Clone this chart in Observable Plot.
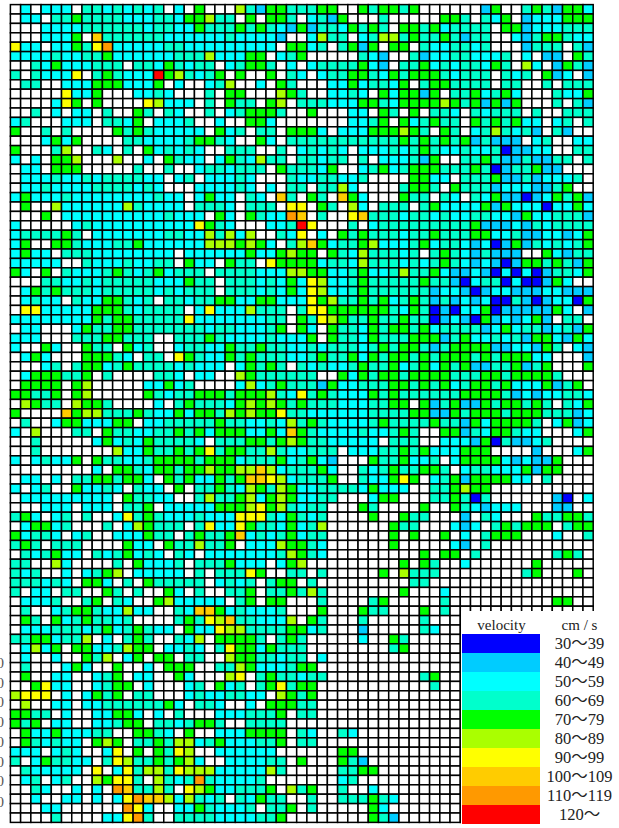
<!DOCTYPE html>
<html>
<head>
<meta charset="utf-8">
<script src="https://cdn.jsdelivr.net/npm/d3@7"></script>
<script src="https://cdn.jsdelivr.net/npm/@observablehq/plot@0.6"></script>
<style>
html,body{margin:0;padding:0;background:#fff;width:619px;height:828px;overflow:hidden}
#wrap{position:relative;width:619px;height:828px}
#grid,#legend{position:absolute}
#grid{left:0;top:0}
#legend{left:461px;top:611px}
svg{display:block}
</style>
</head>
<body>
<div id="wrap"><div id="grid"></div><div id="legend"></div></div>
<script>
// velocity class of each cell, one string per row: "." is no data
const codes = ["3","4","5","6","7","8","9","a","b","c"];
const colors = ["#0000ff","#00ccff","#00ffff","#00ffcc","#00ff00","#aaff00","#ffff00","#ffcc00","#ff9900","#ff0000"];
const legendLabels = ["30〜39","40〜49","50〜59","60〜69","70〜79","80〜89","90〜99","100〜109","110〜119","120〜"];
const legendHead = ["velocity","cm / s"];
const sideTickRows = [70,72.1,74.2,76.3,78.4,80.5,82.6,84.8];
const rowsLeft = [
".5.555.66565656.5.7",".55.667666655566577","...5555666666566557","...5557.a6666665555","955.55769b555556655","5555655667555555666",
"..657555666.6657656","6.65559.676555c7865",".66..5557775557.5..",".....9557...5565...","....597.7....98555.","..6.5.55.6..76.65..",
"56...555.6657.5556.","7..6.6....767655555","...5757....66555567","7...68..65.6.756565","5.5.778...8..5.7655",".55.777.....6..6..5",
".55565565666655.56.",".55655556666565...5","57555655555555655.5",".7..8555555865555.6","...7.55555555556555","5.....5655555555559",
"5666676.55555556655","57..776555667555555","5755.66655555555.55","55555..655565566.75","75.7.65556765675666","...6655656666655576",
".576766656666656566",".5655.65577656.6656",".9955555777656666.5","5555555576776666695",".55...5766776666666","555...66677666..666",
"5..75..766.756..566",".575...77765.66.976","...56.6775676666565",".5777667.6....665.5",".7777.78.....55756.","77667.78.....765667",
".8766.8776....5.676","7....a7886667655757",".6..57755577.556666","5.8...66.7665566767","..6.....57565766665","..6.......855766767",
"5.56557.76655677776","........5.776577677",".55.5.66776775.7675","5.56..75565.655.7.6",".555555555.76655..6","...555.555.667.5555",
"675.56.6..596765556",".57756...6.587666.6","75665.56..555766.67","676.666....755.7668",".656755.6567565.65.","66..85....6.75556.6",
"656..5.5678.55555.6","666565.775.6.766666","6.55.66..76.6..75.6",".5556..67.65..78555",".6..5677655855..65a",
".76.75676656....676",".555666567567655.75","66775668.5.676..658",".5857.77556877.5565",".5..5..768.57.77.66",".6...575..7..5.777.",
".7..55..567.55..75.","..7955..5677.5...56","8999.5.5767.66...56",".8..55.5566666675.6","7766.5..55775.5.6..","767.55..55677.66567",
".755755566..7765.7.",".765655.787.6676885","555.565..59.7.7698.","6.576655.6986676785",".655555.9.596886988",".56.56..87996.8656b",
"..65..5.5.ba6686.98","..5..55.5.59baa8586","...55......b95..557","....6....559b6..666"];
const rowsMiddle = [
"...8647766677..7677","866.7.776.5647...6.","666767654746657676.","55655554..5866.5688","5555555.7756.6747.7","855577.567.....654.",
"6.56776.5.56666754.","67.7..7.65.56677657","568..5.76...5575665","6.77...876..5565.75","6.766.78.6665557765","6.567776..7...55.76",
".5..775.......5567.",".756.66.7775.555777","765..75.66666666666","..666..6.56565.5556",".5765866.66566.6.55","665666.766657..5675",
"55565...65566556...","55565.5.66.6685....","755.65.a6.76.a75...","665.666.99.76.85.66",".75.7655ba.6..9a666","765...556c9...6.566",
"86858..659.5.767666","8887875.68a75667855","55557557877.7658666","5.766.9777756658666",".666655588775567556","6.66656575985567666",
"6.66656575985567666","6775577555978667675","95558666.6997777776","55555566.7698766766","56655567.75.7665767","76555565557.7665766",
"5576676655656665676","5576766655676675767","55.57676.6565567667","5..87666666..757677","...5856766647556667","7767778659676555767",
"6657878767666555667","7687877966555555666","6766556586765555676","57775575a7655556556",".6667767876655555.6","9677668655666.55566",
"7775666756754...766","87788a8566675..6567","5767aa9856667..6557","6765876875566665755","8667857875566...577","577789786566...76..",
"555999657656....7..","955976657568......7","667a56567566......7","667.55587765......7","555555568765.......","667555.578.........",
".66697..66.6.....7.",".5656.677.6........","..667.667686.......","55.67.77...6....67.","a7565556...7...766."];
const rowsBottom = [
"98a665558.76...6.....6...","598866667756...4.....65..",".77776.676.....5..76.....",".697757666........67.....","..87766566.5.............",".66875556 77..............".replace(" ",""),
"..89.6766566.........67..",".756.67967 7...........6..".replace(" ",""),"556655.8767..............","65..5.77766..............",".5556667.66..............","76..6666.................",
".5557777.65..65..........","67555667.66..............",".555555......77..........","..555566.7...764.........","85555586.....6677........","655556.......56..........",
"7556667.867..6..5........","56.65766..6..666765......","65556.667.6.....75.......","65555667........764......"];
const rowsRight = [
"67......47..6764775","....776.657.4555777","776756666.774555666","676676466..54677655","7.6556656...4666.64",".6455665556.5.44.76",
"66756566576.85.4764","677765666.656.745.4","7.6776666.66..6.666","7747.6675675...6557","777787674747...6.64",".7.665.65666.6..666",
"756766.7676755.56.6","876.76.5686564.64..","767676746444.56..55","567655655634455..66","5647..66764464466.6","6777666763466744...",
".7755.666744645556.","6776.766645554467..","766.65.657443457674","6.67555574755535575","5665655665547556664","6666666744454656666",
"5667666775564455457","5675665453474656567","56.676546444..75466","5656765454347767647","8667544543535346657","66766435663533475..",
"6664554345544455444","6764645453364345537","57634355734444475.4","766345437454574.66.","7675666645756645647","6777467556564775475",
"7764677774455476.54","767677767677755...4","567576744667467...7","6777766677677776...","767675677675557467.","6666667777645455665",
"7.7467447677676.657","6774476777677766645","66676647577776.5745","76..7746577655...57","66..55547364456....","767555777....4...57",
"7556.57777545447...","66776.5665557477...","97.5674777755.6....","5..667877..........","...667636......43.5","..7..7654555...44..",
"766...4.65...766776","66...545.676777.677",".7..7.5.6777...5..6",".....54.6..........","..7.77.6.......676.","7.76..5......7.....",
"8666........67...7.",".66................","7...5..............","....6..........77..","..7.6.............."];

const nCols = 57, nRows = 87;
const cells = [];
for (let r = 0; r < nRows; r++) {
  const mid = r < rowsMiddle.length ? rowsMiddle[r] : rowsBottom[r - rowsMiddle.length];
  const right = rowsRight[r] || "";
  const s = (rowsLeft[r] + mid + right).padEnd(nCols, ".");
  for (let c = 0; c < nCols; c++) cells.push({c, r, v: s[c]});
}
const colorDomain = [".", ...codes];
const colorRange = ["#ffffff", ...colors];

document.getElementById("grid").append(Plot.plot({
  width: 619, height: 828, margin: 0,
  style: {background: "#fff"},
  x: {domain: [0, nCols], range: [10.4, 593.2], axis: null},
  y: {domain: [0, nRows], range: [4.6, 822.4], axis: null},
  color: {type: "ordinal", domain: colorDomain, range: colorRange},
  marks: [
    Plot.rect(cells, {x1: "c", x2: d => d.c + 1, y1: "r", y2: d => d.r + 1, fill: "v", stroke: "#000", strokeWidth: 1.5}),
    Plot.text(sideTickRows, {x: -1.05, y: d => d, text: () => "0", fill: "#555", fontSize: 15, fontFamily: "Liberation Serif"})
  ]
}));

const legendRows = ["head", ...legendLabels];
document.getElementById("legend").append(Plot.plot({
  width: 158, height: 217, margin: 0,
  style: {background: "#fff", overflow: "hidden"},
  x: {domain: [0, 1], range: [1, 79], axis: null},
  y: {type: "band", domain: legendRows, range: [0.5, 217], padding: 0, axis: null},
  color: {type: "ordinal", domain: legendLabels, range: colors},
  marks: [
    Plot.barX(legendLabels, {x1: 0, x2: 1, y: d => d, fill: d => d, insetTop: 0, insetBottom: 0}),
    Plot.text(legendLabels, {x: 1.5, y: d => d, text: d => d, fontSize: 16.5, fill: "#222", fontFamily: "Liberation Serif, Noto Sans CJK JP"}),
    Plot.text([legendHead[0]], {x: 0.5, y: () => "head", text: d => d, fontSize: 15, fill: "#222", fontFamily: "Liberation Serif", letterSpacing: "1.5px"}),
    Plot.text([legendHead[1]], {x: 1.5, y: () => "head", text: d => d, fontSize: 15, fill: "#222", fontFamily: "Liberation Serif", letterSpacing: "1.5px"})
  ]
}));
</script>
</body>
</html>
